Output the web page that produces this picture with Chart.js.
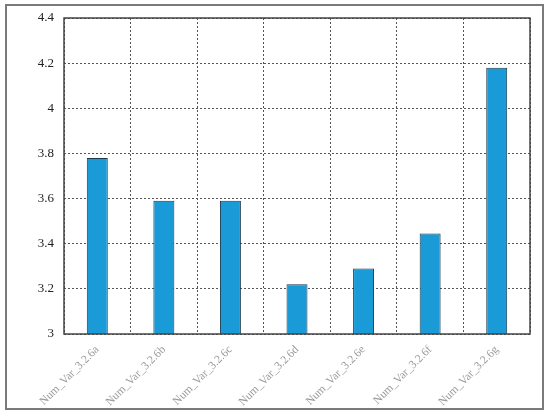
<!DOCTYPE html>
<html>
<head>
<meta charset="utf-8">
<script src="https://cdn.jsdelivr.net/npm/chart.js@4/dist/chart.umd.min.js"></script>
<style>
html,body{margin:0;padding:0;background:#fff;overflow:hidden;}
#wrap{position:relative;width:550px;height:416px;}
#frame{position:absolute;left:5px;top:4px;width:535px;height:402px;border:2px solid #7a7a7a;pointer-events:none;}
</style>
</head>
<body>
<div id="wrap">
<canvas id="c" width="550" height="416"></canvas>
<div id="frame"></div>
</div>
<script>
const categories = ["Num_Var_3.2.6a","Num_Var_3.2.6b","Num_Var_3.2.6c","Num_Var_3.2.6d","Num_Var_3.2.6e","Num_Var_3.2.6f","Num_Var_3.2.6g"];
const values = [3.78, 3.59, 3.59, 3.22, 3.29, 3.445, 4.18];
const yMin = 3, yMax = 4.4, yStep = 0.2;

const frameBox = {
  id: 'frameBox',
  afterDraw(chart) {
    const a = chart.chartArea, ctx = chart.ctx;
    ctx.save();
    ctx.setLineDash([]);
    ctx.strokeStyle = '#444';
    ctx.lineWidth = 1.5;
    ctx.strokeRect(a.left, a.top, a.right - a.left, a.bottom - a.top);
    ctx.restore();
  }
};

new Chart(document.getElementById('c'), {
  type: 'bar',
  data: {
    labels: categories,
    datasets: [{
      data: values,
      backgroundColor: '#1b9ad8',
      borderColor: '#1d3a4c',
      borderWidth: 1,
      borderSkipped: false,
      categoryPercentage: 1,
      barPercentage: 0.315
    }]
  },
  options: {
    responsive: false,
    animation: false,
    devicePixelRatio: 1,
    layout: { padding: { left: 0, top: 18, right: 20, bottom: 0 } },
    plugins: { legend: { display: false }, tooltip: { enabled: false } },
    scales: {
      x: {
        grid: { color: '#555', lineWidth: 1, drawTicks: false, offset: true },
        border: { display: false, dash: [2, 2] },
        ticks: {
          color: '#9a9a9a',
          font: { family: 'Liberation Serif', size: 11.5 },
          minRotation: 45, maxRotation: 45,
          padding: 9
        },
        afterFit(s) { s.height = 82; }
      },
      y: {
        min: yMin, max: yMax,
        grid: { color: '#555', lineWidth: 1, drawTicks: false },
        border: { display: false, dash: [2, 2] },
        ticks: {
          stepSize: yStep,
          color: '#222',
          font: { family: 'Liberation Serif', size: 13 },
          padding: 10,
          callback: (v) => String(Number(Number(v).toFixed(1)))
        },
        afterFit(s) { s.width = 64; }
      }
    }
  },
  plugins: [frameBox]
});
</script>
</body>
</html>
